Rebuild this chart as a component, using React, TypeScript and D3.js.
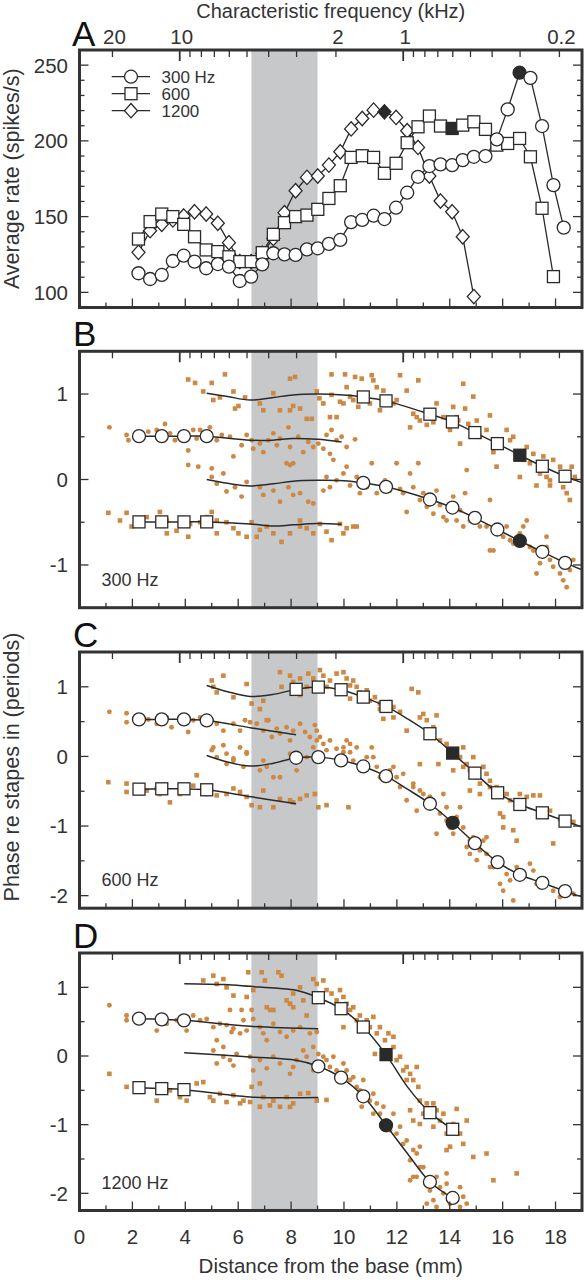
import React from 'react';
import * as d3 from 'd3';

type P = [number, number];

const W = 584;
const H = 1280;
const FONT = '"Liberation Sans", Arial, Helvetica, sans-serif';
const INK = '#333333';
const ORANGE = '#cd8944';
const SHADE = '#c7c8ca';

// ---------- axes data ----------
const X_DOMAIN: P = [0, 19];
const X_TICK_LABELS = [0, 2, 4, 6, 8, 10, 12, 14, 16, 18];
const X_MINOR = d3.range(1, 19, 1);
const SHADE_MM: P = [6.5, 9.0];
const CF_LABELS = [20, 10, 2, 1, 0.2];
const CF_MAJOR = [10, 1];
const CF_MINOR = [20, 9, 8, 7, 6, 5, 4, 3, 2, 0.9, 0.8, 0.7, 0.6, 0.5, 0.4, 0.3, 0.2];
const CF_ANCHOR_KHZ: P = [10, 1];
const CF_ANCHOR_MM: P = [3.79, 12.24];

// ---------- panel A data ----------
const rateX = [2.23, 2.67, 3.11, 3.53, 3.94, 4.35, 4.79, 5.23, 5.65, 6.06, 6.49, 6.91, 7.33, 7.75, 8.17, 8.6, 9.01, 9.43, 9.86, 10.27, 10.69, 11.12, 11.53, 11.97, 12.39, 12.8, 13.23, 13.65, 14.09, 14.49, 14.91, 15.35, 15.78, 16.19, 16.64, 17.05, 17.49, 17.92, 18.31];
const rate300 = [112.6, 108.8, 111.5, 120.7, 124.2, 120.3, 115.9, 118.7, 117, 107.5, 110.4, 118.5, 125.8, 125.1, 124.7, 128.4, 129.1, 132, 134.6, 146.4, 147.8, 150.6, 148.4, 155.9, 165.8, 176.3, 183.4, 184.5, 184, 187.3, 189.5, 190, 201, 220.8, 245, 241.6, 209.8, 170.8, 142.7];
const rate600 = [135.2, 146.7, 151.7, 150, 144.9, 136.7, 128, 126.9, 123.5, 120.3, 120.3, 126.2, 138.3, 146, 150, 151, 154.8, 162, 170.4, 189.1, 190.2, 189.1, 178.6, 185.2, 198.8, 209.3, 216.4, 209.8, 208.2, 210.4, 212.6, 207.6, 197.2, 198.3, 201.6, 189.5, 155.5, 110.4];
const rate1200 = [126.4, 140.7, 144.9, 147.8, 150.4, 153.2, 151.7, 145.6, 132.8, 120.3, 120.3, 125.8, 135.6, 152.6, 167.1, 175.9, 176.8, 184, 192.8, 207.9, 214.8, 220.3, 219.2, 215.5, 206.7, 195.7, 176.8, 160.3, 153.2, 136.7, 97.2];
const filled300 = 34;
const filled600 = 28;
const filled1200 = 22;
const legendLabels = ['300 Hz', '600', '1200'];
const rateTicks = [100, 150, 200, 250];

// ---------- panel B (300 Hz) ----------
const B_sqScatter: P[] = [[4.11,1.17],[4.37,1.13],[5.0,1.13],[5.5,1.23],[4.68,1.03],[5.06,0.93],[5.31,0.96],[5.82,1.03],[5.88,0.83],[6.01,0.86],[6.26,0.96],[6.82,0.89],[6.95,0.81],[7.33,1.01],[7.58,0.81],[7.96,1.18],[8.15,1.2],[7.96,0.81],[8.08,0.86],[8.34,0.83],[8.59,0.71],[8.78,0.71],[8.97,1.03],[9.07,0.95],[9.22,0.89],[9.53,1.23],[9.53,0.99],[9.85,0.91],[9.72,0.73],[9.47,0.73],[10.04,1.23],[10.1,1.08],[10.23,0.97],[10.35,0.93],[10.42,1.2],[10.54,0.85],[10.67,1.18],[11.05,1.22],[11.11,1.16],[11.24,1.08],[11.36,0.81],[11.49,1.04],[12.12,1.22],[11.99,0.93],[12.37,1.04],[12.5,0.61],[12.62,0.77],[12.81,1.16],[12.87,0.69],[13.13,0.64],[13.38,0.67],[13.5,0.89],[13.76,0.73],[14.01,0.58],[14.13,0.85],[14.26,0.73],[14.39,0.42],[14.51,1.12],[14.58,0.83],[14.7,0.65],[14.89,0.97],[15.14,0.5],[15.39,0.58],[15.52,0.75],[15.65,0.32],[15.77,0.15],[16.15,0.58],[16.28,0.46],[16.4,0.5],[16.53,0.3],[16.78,0.23],[16.91,0.38],[17.03,0.19],[17.16,0.3],[17.41,0.07],[17.54,0.27],[17.66,0.03],[17.79,-0.07],[17.91,0.23],[18.17,0.15],[18.29,-0.09],[18.42,-0.16],[18.54,-0.24],[18.61,0.15],[18.73,0.03],[17.79,-0.01],[17.28,-0.07],[16.65,0.03],[15.9,0.42],[15.02,0.69],[14.32,0.69],[13.25,0.81],[12.75,0.73],[11.87,0.89],[9.98,0.89],[10.98,0.89],
[1.09,-0.39],[1.78,-0.39],[1.97,-0.55],[2.54,-0.44],[3.04,-0.38],[3.3,-0.48],[3.67,-0.6],[4.18,-0.52],[4.11,-0.67],[4.56,-0.5],[4.81,-0.44],[5.0,-0.38],[5.19,-0.63],[5.56,-0.5],[5.82,-0.57],[6.32,-0.67],[6.51,-0.5],[6.82,-0.59],[7.08,-0.55],[7.33,-0.63],[7.64,-0.73],[7.96,-0.63],[8.34,-0.55],[8.59,-0.57],[8.84,-0.63],[9.09,-0.52],[9.34,-0.61],[9.53,-0.71],[9.85,-0.52],[9.98,-0.63],[10.1,-0.57],[10.35,-0.55],[10.48,-0.55],[1.53,-0.48],[3.3,-0.63],[5.19,-0.48],[6.01,-0.63],[6.7,-0.67],[8.34,-0.48]];
const B_ciScatter: P[] = [[1.13,0.61],[1.78,0.52],[1.85,0.46],[2.29,0.5],[2.6,0.56],[2.92,0.58],[3.23,0.65],[3.42,0.54],[3.61,0.46],[4.05,0.52],[4.11,0.34],[4.3,0.58],[4.43,0.48],[4.56,0.58],[4.93,0.61],[5.19,0.46],[5.38,0.52],[5.69,0.5],[5.82,0.27],[6.13,0.4],[6.32,0.52],[6.51,0.46],[6.57,0.36],[6.82,0.42],[6.95,0.32],[7.14,0.46],[7.33,0.54],[7.46,0.4],[7.58,0.48],[7.9,0.61],[7.96,0.38],[8.08,0.19],[8.27,0.5],[8.46,0.32],[8.65,0.44],[8.84,0.38],[9.03,0.42],[9.22,0.36],[9.34,0.52],[9.47,0.3],[9.53,0.58],[9.6,0.23],[9.72,0.46],[9.91,0.5],[10.1,0.38],[10.42,0.47],[4.11,0.17],[4.49,0.15],[5.0,0.13],[5.44,0.07],[7.83,0.19],[7.96,0.17],
[5.0,0.03],[5.19,-0.05],[5.56,-0.14],[5.88,-0.09],[6.13,-0.2],[6.32,-0.03],[6.82,-0.09],[6.95,-0.18],[7.33,-0.13],[7.58,-0.26],[7.9,-0.09],[8.08,-0.18],[8.34,-0.16],[8.65,-0.26],[8.84,-0.28],[9.22,-0.13],[9.34,0.03],[9.47,-0.09],[9.72,-0.01],[9.98,0.07],[10.1,0.15],[10.23,-0.07],[10.48,0.03],[10.6,-0.16],[10.86,-0.09],[11.05,0.19],[11.24,-0.16],[11.55,-0.01],[11.74,-0.13],[11.99,0.19],[12.12,-0.11],[12.24,-0.16],[12.37,-0.38],[12.5,0.07],[12.62,-0.09],[12.81,0.19],[12.87,-0.24],[13.0,-0.16],[13.13,-0.32],[13.38,-0.4],[13.5,-0.13],[13.63,-0.3],[13.88,-0.48],[14.01,-0.32],[14.13,-0.2],[14.39,-0.36],[14.51,-0.55],[14.58,-0.16],[14.64,0.11],[14.76,-0.48],[15.02,-0.4],[15.14,-0.55],[15.39,-0.55],[15.52,-0.24],[15.65,-0.83],[15.9,-0.63],[16.02,-0.67],[16.15,-0.55],[16.28,-0.71],[16.4,-0.75],[16.65,-0.63],[16.78,-0.55],[16.91,-0.48],[17.03,-0.79],[17.16,-0.83],[17.28,-1.1],[17.41,-0.98],[17.54,-0.9],[17.66,-0.79],[17.79,-0.94],[17.91,-1.02],[18.17,-1.1],[18.29,-1.18],[18.42,-1.26],[18.54,-1.06],[18.67,-0.94],[17.66,-0.67],[15.52,-0.83],[14.26,-0.48],[13.76,-0.44]];
const B_sqMarkers: P[] = [[10.73,0.966],[11.59,0.92],[13.25,0.764],[14.1,0.674],[14.95,0.549],[15.8,0.42],[16.65,0.284],[17.5,0.155],[18.36,0.038]];
const B_sqLine: P[] = [[4.81,1.01],[5.6,0.97],[6.45,0.93],[7.33,0.96],[8.08,0.99],[8.97,1.0],[9.98,0.99],[10.73,0.966],[11.59,0.92],[13.25,0.764],[14.1,0.674],[14.95,0.549],[15.8,0.42],[16.65,0.284],[17.5,0.155],[18.36,0.038],[19.2,-0.06]];
const B_ciLeftMarkers: P[] = [[2.25,0.507],[3.11,0.507],[3.95,0.507],[4.81,0.507]];
const B_ciLeftLine: P[] = [[2.25,0.507],[3.11,0.507],[3.95,0.507],[4.81,0.507],[6.45,0.46],[7.3,0.46],[8.08,0.48],[9.0,0.47],[9.91,0.44]];
const B_ciMarkers: P[] = [[10.73,-0.04],[11.59,-0.086],[13.25,-0.234],[14.1,-0.328],[14.95,-0.449],[15.8,-0.585],[16.65,-0.718],[17.5,-0.846],[18.36,-0.975]];
const B_ciLine: P[] = [[4.81,0.0],[5.6,-0.045],[6.45,-0.075],[7.33,-0.05],[8.08,-0.02],[9.0,-0.01],[9.98,-0.015],[10.73,-0.04],[11.59,-0.086],[13.25,-0.234],[14.1,-0.328],[14.95,-0.449],[15.8,-0.585],[16.65,-0.718],[17.5,-0.846],[18.36,-0.975],[19.2,-1.08]];
const B_sqLeftMarkers: P[] = [[2.25,-0.496],[3.11,-0.496],[3.95,-0.496],[4.81,-0.496]];
const B_sqLeftLine: P[] = [[2.25,-0.496],[3.11,-0.496],[3.95,-0.496],[4.81,-0.496],[6.45,-0.52],[7.33,-0.545],[8.08,-0.53],[9.0,-0.515],[9.91,-0.523]];

// ---------- panel C (600 Hz) ----------
const C_sqScatter: P[] = [[5.44,1.16],[5.0,1.09],[5.06,1.0],[5.19,0.92],[5.82,0.85],[6.32,1.04],[6.51,0.76],[6.82,0.68],[6.95,0.8],[7.08,0.52],[7.58,1.21],[7.64,1.0],[7.96,1.16],[8.08,1.07],[8.34,1.12],[8.59,1.0],[8.65,1.19],[8.84,1.12],[9.09,1.24],[9.22,1.16],[9.34,1.0],[9.47,1.09],[9.72,1.19],[9.98,1.21],[10.1,1.12],[10.23,1.02],[10.35,1.09],[10.48,1.0],[10.6,0.92],[10.86,0.95],[10.98,0.8],[11.17,0.85],[11.36,0.76],[11.49,0.54],[11.74,0.78],[11.87,0.71],[12.12,0.64],[12.37,0.37],[12.56,0.97],[12.81,0.92],[12.87,0.56],[13.0,0.61],[12.87,-0.11],[13.13,0.52],[13.38,0.42],[13.5,0.59],[13.63,0.23],[13.88,0.18],[14.26,0.09],[14.39,-0.01],[14.51,0.13],[14.64,-0.11],[14.76,-0.2],[14.89,-0.01],[15.02,-0.3],[15.14,-0.39],[15.27,-0.15],[15.39,-0.25],[15.52,-0.35],[15.65,-0.49],[15.77,-0.44],[15.9,-0.82],[16.02,-0.87],[16.15,-0.54],[16.28,-0.63],[16.4,-1.06],[16.53,-1.21],[16.65,-0.54],[16.91,-0.58],[17.16,-0.56],[17.41,-0.56],[17.66,-0.82],[17.79,-0.78],[17.91,-1.25],[18.17,-0.9],[18.42,-0.92],[18.67,-0.94],[13.57,-0.11],[14.51,-0.15],[14.13,-0.2],[15.14,-0.54],[16.02,-1.02],[15.52,-0.44],[14.76,-0.49],[13.25,0.28],[11.87,0.56],[11.36,0.68],[9.98,0.92],[10.23,0.83],[9.09,1.04],[8.34,0.88],
[1.09,-0.37],[1.78,-0.39],[1.78,-0.51],[2.54,-0.49],[2.92,-0.46],[3.42,-0.66],[3.8,-0.54],[4.3,-0.42],[4.43,-0.27],[4.81,-0.54],[5.19,-0.56],[5.56,-0.54],[5.82,-0.46],[6.32,-0.58],[6.51,-0.7],[6.82,-0.73],[6.95,-0.49],[7.33,-0.73],[7.58,-0.61],[7.96,-0.63],[8.34,-0.61],[8.59,-0.56],[8.9,-0.54],[9.03,-0.73],[9.34,-0.7],[10.17,-0.73],[3.04,-0.54],[4.05,-0.49],[6.07,-0.51],[8.08,-0.66]];
const C_ciScatter: P[] = [[1.13,0.64],[1.78,0.62],[1.78,0.49],[2.29,0.52],[2.6,0.53],[2.92,0.47],[3.3,0.56],[3.48,0.42],[3.8,0.54],[4.11,0.35],[4.3,0.52],[4.56,0.56],[5.0,0.52],[5.19,0.47],[5.44,0.37],[5.82,0.47],[6.07,0.37],[6.26,0.52],[6.45,0.49],[6.7,0.47],[6.95,0.37],[7.14,0.52],[7.27,0.28],[7.46,0.4],[7.58,0.33],[7.83,0.42],[7.96,0.23],[8.08,0.37],[8.34,0.47],[8.53,0.35],[8.71,0.28],[8.9,0.45],[8.97,0.37],[5.06,0.13],[5.44,0.16],[5.56,0.04],[5.82,-0.06],[6.07,0.13],[6.32,0.06],
[5.0,0.09],[5.19,-0.01],[5.56,-0.11],[5.82,-0.03],[6.2,-0.15],[6.32,0.04],[6.82,-0.2],[6.95,-0.06],[7.08,-0.15],[7.33,-0.3],[7.58,-0.3],[7.96,0.04],[8.21,-0.2],[8.34,-0.06],[8.59,-0.01],[8.84,0.13],[8.97,0.23],[9.09,0.28],[9.22,0.18],[9.34,0.09],[9.47,0.23],[9.72,0.11],[9.85,-0.01],[9.98,0.13],[10.1,0.23],[10.23,0.06],[10.35,-0.06],[10.48,0.13],[10.6,-0.15],[10.86,-0.01],[11.05,0.13],[11.24,-0.15],[11.36,-0.3],[11.55,-0.35],[11.74,-0.2],[11.99,-0.3],[12.12,-0.44],[12.24,-0.25],[12.37,-0.63],[12.62,-0.44],[12.75,-0.78],[12.87,-0.49],[13.0,-0.54],[13.13,-0.63],[13.38,-0.63],[13.5,-1.11],[13.63,-0.82],[13.88,-0.92],[14.01,-1.02],[14.13,-1.11],[14.26,-0.87],[14.39,-0.73],[14.51,-1.02],[14.64,-1.3],[14.76,-1.4],[14.89,-1.16],[15.02,-1.49],[15.14,-1.35],[15.27,-1.21],[15.39,-1.4],[15.52,-1.59],[15.65,-1.59],[15.9,-1.83],[16.02,-1.93],[16.15,-1.69],[16.28,-1.78],[16.4,-2.07],[16.53,-1.59],[16.78,-1.73],[17.03,-1.54],[17.16,-1.64],[17.28,-1.83],[17.41,-1.88],[17.66,-1.83],[17.91,-1.93],[18.17,-2.02],[18.42,-1.97],[18.67,-1.97],[15.39,-1.16],[15.65,-1.49],[14.76,-1.21],[13.88,-0.73],[13.25,-0.58],[12.62,-0.39],[11.61,-0.3],[11.87,-0.15],[9.98,0.06],[10.23,0.18],[11.11,-0.01],[13.76,-0.54]];
const C_sqMarkers: P[] = [[8.19,0.963],[9.03,0.996],[9.89,0.958],[10.73,0.852],[11.59,0.718],[13.25,0.326],[14.11,0.048],[14.95,-0.24],[15.81,-0.522],[16.65,-0.69],[17.5,-0.81],[18.36,-0.929]];
const C_sqLine: P[] = [[4.81,1.02],[5.6,0.93],[6.45,0.862],[7.3,0.89],[8.19,0.963],[9.03,0.996],[9.89,0.958],[10.73,0.852],[11.59,0.718],[12.4,0.54],[13.25,0.326],[14.11,0.048],[14.95,-0.24],[15.81,-0.522],[16.65,-0.69],[17.5,-0.81],[18.36,-0.929],[19.2,-1.04]];
const C_ciLeftMarkers: P[] = [[2.25,0.532],[3.11,0.532],[3.95,0.532],[4.81,0.517]];
const C_ciLeftLine: P[] = [[2.25,0.532],[3.11,0.532],[3.95,0.532],[4.81,0.517],[6.5,0.41],[8.19,0.31]];
const C_ciMarkers: P[] = [[8.19,-0.019],[9.03,-0.01],[9.89,-0.057],[10.73,-0.144],[11.59,-0.283],[13.25,-0.68],[14.11,-0.953],[14.95,-1.245],[15.81,-1.518],[16.65,-1.7],[17.5,-1.815],[18.36,-1.935]];
const C_ciLine: P[] = [[4.81,0.014],[5.6,-0.08],[6.45,-0.139],[7.3,-0.1],[8.19,-0.019],[9.03,-0.01],[9.89,-0.057],[10.73,-0.144],[11.59,-0.283],[12.4,-0.47],[13.25,-0.68],[14.11,-0.953],[14.95,-1.245],[15.81,-1.518],[16.65,-1.7],[17.5,-1.815],[18.36,-1.935],[19.2,-2.04]];
const C_sqLeftMarkers: P[] = [[2.25,-0.47],[3.11,-0.465],[3.95,-0.465],[4.81,-0.479]];
const C_sqLeftLine: P[] = [[2.25,-0.47],[3.11,-0.465],[3.95,-0.465],[4.81,-0.479],[6.5,-0.58],[8.19,-0.68]];

// ---------- panel D (1200 Hz) ----------
const D_sqScatter: P[] = [[4.68,1.1],[5.06,1.17],[5.19,1.05],[5.44,1.12],[5.56,1.0],[5.82,0.88],[6.38,1.22],[6.57,0.96],[6.89,1.22],[7.01,1.1],[7.33,0.67],[7.52,1.22],[7.64,1.17],[7.83,0.81],[7.96,0.76],[8.08,0.71],[8.34,1.0],[8.46,0.81],[8.59,0.59],[8.84,1.12],[8.97,1.05],[9.22,1.1],[9.34,0.96],[9.53,0.91],[9.72,0.81],[9.85,0.96],[9.98,0.86],[10.1,0.76],[10.23,0.67],[10.35,0.71],[10.48,0.52],[10.6,0.59],[10.86,0.52],[10.98,0.42],[11.11,0.57],[11.24,0.33],[11.36,0.42],[11.55,0.23],[11.68,0.33],[11.87,0.13],[11.99,-0.06],[12.12,-0.01],[12.24,-0.21],[12.37,-0.35],[12.5,-0.26],[12.62,-0.35],[12.75,-0.16],[12.81,-0.45],[12.87,-0.65],[13.0,-0.84],[12.5,-0.79],[12.62,-0.94],[12.87,-0.99],[13.13,-0.69],[13.38,-0.69],[13.5,-0.79],[13.63,-0.94],[13.76,-0.84],[13.88,-1.13],[14.01,-1.32],[14.13,-0.99],[14.26,-0.77],[14.39,-1.13],[14.51,-1.28],[14.64,-0.94],[14.89,-1.47],[15.39,-1.42],[15.65,-1.81],[16.53,-1.71],[13.38,-1.03],[13.88,-1.37],[11.17,0.03],[9.98,0.42],[9.09,0.81],[7.08,0.71],[6.32,0.86],[8.08,0.91],[11.87,0.28],[12.37,-0.16],
[1.13,-0.26],[1.78,-0.45],[2.35,-0.5],[2.92,-0.65],[3.42,-0.5],[3.8,-0.6],[4.05,-0.65],[4.43,-0.4],[4.68,-0.38],[5.06,-0.65],[5.31,-0.55],[5.56,-0.67],[5.82,-0.57],[6.2,-0.65],[6.45,-0.67],[6.82,-0.74],[6.95,-0.6],[7.33,-0.65],[7.58,-0.74],[7.83,-0.6],[8.08,-0.69],[8.34,-0.55],[8.65,-0.54],[8.97,-0.65],[9.34,-0.64],[4.93,-0.6],[6.07,-0.69],[7.2,-0.72],[7.96,-0.74],[6.51,-0.45],[6.82,-0.4]];
const D_ciScatter: P[] = [[1.13,0.74],[1.78,0.59],[1.78,0.52],[2.29,0.54],[2.92,0.37],[3.3,0.47],[3.67,0.52],[4.05,0.37],[4.3,0.59],[4.56,0.52],[4.81,0.54],[5.06,0.42],[5.31,0.47],[5.56,0.45],[5.82,0.4],[6.07,0.33],[6.32,0.37],[6.51,0.67],[6.57,0.54],[6.82,0.42],[6.95,0.33],[7.08,0.23],[7.33,0.47],[7.58,0.35],[7.83,0.28],[8.08,0.37],[8.34,0.42],[8.71,0.33],[8.97,0.35],[5.69,0.67],[5.19,0.23],[5.44,0.13],[5.75,0.35],[7.2,0.67],[7.96,0.76],[6.13,0.67],[6.2,0.52],
[5.06,0.08],[5.19,-0.11],[5.44,-0.01],[5.69,-0.06],[5.82,-0.14],[5.94,0.03],[6.45,-0.01],[6.57,-0.21],[6.82,-0.06],[7.08,-0.18],[7.33,-0.01],[7.58,-0.11],[7.96,-0.26],[8.08,-0.16],[8.21,-0.06],[8.46,0.08],[8.59,-0.01],[8.84,0.13],[9.03,0.03],[9.22,-0.01],[9.34,-0.06],[9.47,-0.16],[9.72,-0.21],[9.98,-0.11],[10.23,-0.35],[10.35,-0.31],[10.48,-0.45],[10.6,-0.5],[10.73,-0.35],[10.86,-0.6],[10.98,-0.65],[11.11,-0.55],[11.24,-0.69],[11.36,-0.84],[11.49,-0.74],[11.61,-0.94],[11.87,-0.84],[11.99,-1.13],[12.12,-1.03],[12.37,-1.23],[12.5,-1.52],[12.62,-1.37],[12.75,-1.42],[12.87,-1.32],[13.0,-1.62],[13.13,-1.86],[13.25,-1.96],[13.38,-2.1],[13.5,-1.76],[13.63,-1.91],[13.76,-2.0],[13.88,-1.86],[14.13,-2.0],[14.26,-2.1],[14.39,-1.91],[14.51,-2.05],[14.64,-2.15],[12.5,-1.81],[12.75,-1.76],[13.13,-2.15],[13.5,-2.2],[14.39,-2.2],[11.11,-0.84],[11.74,-1.08],[12.24,-1.28],[12.87,-1.62],[12.62,-1.76],[13.88,-1.71],[14.01,-2.15],[10.67,-0.74],[10.1,-0.21],[8.84,-0.21],[9.6,-0.01]];
const D_sqMarkers: P[] = [[9.03,0.849],[9.89,0.689],[10.73,0.422],[11.59,0.02],[13.25,-0.825],[14.11,-1.067]];
const D_sqLine: P[] = [[3.96,1.053],[5.5,1.04],[6.45,1.014],[7.5,0.985],[8.19,0.956],[9.03,0.849],[9.89,0.689],[10.73,0.422],[11.59,0.02],[12.4,-0.45],[13.25,-0.825],[14.11,-1.067]];
const D_ciLeftMarkers: P[] = [[2.25,0.544],[3.11,0.534],[3.95,0.519]];
const D_ciLeftLine: P[] = [[2.25,0.544],[3.11,0.534],[3.95,0.519],[6.45,0.432],[9.03,0.398]];
const D_ciMarkers: P[] = [[9.03,-0.15],[9.89,-0.315],[10.73,-0.587],[11.59,-1.009],[13.25,-1.834],[14.11,-2.067]];
const D_ciLine: P[] = [[3.96,0.049],[6.45,-0.014],[8.19,-0.063],[9.03,-0.15],[9.89,-0.315],[10.73,-0.587],[11.59,-1.009],[12.4,-1.42],[13.25,-1.834],[14.11,-2.067]];
const D_sqLeftMarkers: P[] = [[2.25,-0.461],[3.11,-0.475],[3.95,-0.49]];
const D_sqLeftLine: P[] = [[2.25,-0.461],[3.11,-0.475],[3.95,-0.49],[6.45,-0.597],[9.03,-0.606]];

// ---------- layout ----------
const X_RANGE: P = [79.5, 582];
const x = d3.scaleLinear().domain(X_DOMAIN).range(X_RANGE);
const cf = d3.scaleLog().domain(CF_ANCHOR_KHZ).range([x(CF_ANCHOR_MM[0]), x(CF_ANCHOR_MM[1])]);

interface PhasePanelDef {
  id: string; letter: string; label: string; top: number; bottom: number; yDomain: P;
  sqScatter: P[]; ciScatter: P[];
  sqLine: P[]; sqMarkers: P[]; sqFilled: number;
  ciLine: P[]; ciMarkers: P[]; ciFilled: number;
  ciLeftLine: P[]; ciLeftMarkers: P[];
  sqLeftLine: P[]; sqLeftMarkers: P[];
  yMajor: number[]; yMinor: number[];
}

const phasePanels: PhasePanelDef[] = [
  { id: 'B', letter: 'B', label: '300 Hz', top: 351.3, bottom: 607.7, yDomain: [-1.5, 1.5],
    sqScatter: B_sqScatter, ciScatter: B_ciScatter, sqLine: B_sqLine, sqMarkers: B_sqMarkers, sqFilled: 6,
    ciLine: B_ciLine, ciMarkers: B_ciMarkers, ciFilled: 6, ciLeftLine: B_ciLeftLine, ciLeftMarkers: B_ciLeftMarkers,
    sqLeftLine: B_sqLeftLine, sqLeftMarkers: B_sqLeftMarkers, yMajor: [-1, 0, 1], yMinor: [-0.5, 0.5] },
  { id: 'C', letter: 'C', label: '600 Hz', top: 652, bottom: 908.2, yDomain: [-2.18, 1.5],
    sqScatter: C_sqScatter, ciScatter: C_ciScatter, sqLine: C_sqLine, sqMarkers: C_sqMarkers, sqFilled: 6,
    ciLine: C_ciLine, ciMarkers: C_ciMarkers, ciFilled: 6, ciLeftLine: C_ciLeftLine, ciLeftMarkers: C_ciLeftMarkers,
    sqLeftLine: C_sqLeftLine, sqLeftMarkers: C_sqLeftMarkers, yMajor: [-2, -1, 0, 1], yMinor: [-1.5, -0.5, 0.5] },
  { id: 'D', letter: 'D', label: '1200 Hz', top: 953, bottom: 1210.5, yDomain: [-2.25, 1.5],
    sqScatter: D_sqScatter, ciScatter: D_ciScatter, sqLine: D_sqLine, sqMarkers: D_sqMarkers, sqFilled: 3,
    ciLine: D_ciLine, ciMarkers: D_ciMarkers, ciFilled: 3, ciLeftLine: D_ciLeftLine, ciLeftMarkers: D_ciLeftMarkers,
    sqLeftLine: D_sqLeftLine, sqLeftMarkers: D_sqLeftMarkers, yMajor: [-2, -1, 0, 1], yMinor: [-1.5, -0.5, 0.5] },
];

const A_TOP = 50;
const A_BOTTOM = 307.5;
const yA = d3.scaleLinear().domain([90, 260]).range([A_BOTTOM, A_TOP]);

const FRAME_W = 3;
const TICK_W = 1.3;

function Circle({ cx, cy, r = 6.5, filled = false }: { cx: number; cy: number; r?: number; filled?: boolean }) {
  return <circle cx={cx} cy={cy} r={r} fill={filled ? '#2a2a2a' : '#fff'} stroke="#2a2a2a" strokeWidth={1.3} />;
}
function Square({ cx, cy, s = 12, filled = false }: { cx: number; cy: number; s?: number; filled?: boolean }) {
  return <rect x={cx - s / 2} y={cy - s / 2} width={s} height={s} fill={filled ? '#2a2a2a' : '#fff'} stroke="#2a2a2a" strokeWidth={1.3} />;
}
function Diamond({ cx, cy, filled = false }: { cx: number; cy: number; filled?: boolean }) {
  const hw = 6.5, hh = 7.2;
  return <path d={`M${cx},${cy - hh}L${cx + hw},${cy}L${cx},${cy + hh}L${cx - hw},${cy}Z`} fill={filled ? '#2a2a2a' : '#fff'} stroke="#2a2a2a" strokeWidth={1.3} />;
}

function Frame({ top, bottom, yMajor, yMinor, y, showTopLabels }: { top: number; bottom: number; yMajor: number[]; yMinor: number[]; y: d3.ScaleLinear<number, number>; showTopLabels?: boolean }) {
  const l = X_RANGE[0], r = X_RANGE[1];
  return (
    <g>
      {X_MINOR.map((v) => {
        const major = v % 2 === 0;
        return <line key={'b' + v} x1={x(v)} x2={x(v)} y1={bottom} y2={bottom - (major ? 9 : 5)} stroke={INK} strokeWidth={TICK_W} />;
      })}
      {CF_MINOR.map((f) => (
        <line key={'tm' + f} x1={cf(f)} x2={cf(f)} y1={top} y2={top + 7} stroke={INK} strokeWidth={TICK_W} />
      ))}
      {CF_MAJOR.map((f) => (
        <line key={'tM' + f} x1={cf(f)} x2={cf(f)} y1={top} y2={top + 11} stroke={INK} strokeWidth={TICK_W + 0.5} />
      ))}
      {yMajor.map((v) => (
        <g key={'yM' + v}>
          <line x1={l} x2={l + 9} y1={y(v)} y2={y(v)} stroke={INK} strokeWidth={TICK_W} />
          <line x1={r} x2={r - 9} y1={y(v)} y2={y(v)} stroke={INK} strokeWidth={TICK_W} />
          <text x={68} y={y(v)} dy="0.36em" textAnchor="end" fontSize={20.5} fill={INK} fontFamily={FONT}>{v < 0 ? '-' + Math.abs(v) : v}</text>
        </g>
      ))}
      {yMinor.map((v) => (
        <g key={'ym' + v}>
          <line x1={l} x2={l + 5} y1={y(v)} y2={y(v)} stroke={INK} strokeWidth={TICK_W} />
          <line x1={r} x2={r - 5} y1={y(v)} y2={y(v)} stroke={INK} strokeWidth={TICK_W} />
        </g>
      ))}
      <rect x={l} y={top} width={r - l} height={bottom - top} fill="none" stroke={INK} strokeWidth={FRAME_W} />
      {showTopLabels && CF_LABELS.map((f) => (
        <text key={'cl' + f} x={cf(f) + 2} y={top - 6} textAnchor="middle" fontSize={20.5} fill={INK} fontFamily={FONT}>{f}</text>
      ))}
    </g>
  );
}

function PanelA() {
  const lineLin = d3.line<P>().x((d) => x(d[0])).y((d) => yA(d[1]));
  const s300: P[] = rate300.map((v, i) => [rateX[i], v]);
  const s600: P[] = rate600.map((v, i) => [rateX[i], v]);
  const s1200: P[] = rate1200.map((v, i) => [rateX[i], v]);
  const minorA = d3.range(90, 261, 10).filter((v) => !rateTicks.includes(v));
  const legendY = [76.7, 93.7, 110.7];
  return (
    <g>
      <rect x={x(SHADE_MM[0])} y={A_TOP} width={x(SHADE_MM[1]) - x(SHADE_MM[0])} height={A_BOTTOM - A_TOP} fill={SHADE} />
      <path d={lineLin(s1200) || ''} fill="none" stroke="#2a2a2a" strokeWidth={1.3} />
      <path d={lineLin(s600) || ''} fill="none" stroke="#2a2a2a" strokeWidth={1.3} />
      <path d={lineLin(s300) || ''} fill="none" stroke="#2a2a2a" strokeWidth={1.3} />
      {s1200.map((d, i) => <Diamond key={'d' + i} cx={x(d[0])} cy={yA(d[1])} filled={i === filled1200} />)}
      {s600.map((d, i) => <Square key={'s' + i} cx={x(d[0])} cy={yA(d[1])} filled={i === filled600} s={12} />)}
      {s300.map((d, i) => <Circle key={'c' + i} cx={x(d[0])} cy={yA(d[1])} filled={i === filled300} />)}
      {legendLabels.map((lab, i) => (
        <g key={lab}>
          <line x1={111.7} x2={150} y1={legendY[i]} y2={legendY[i]} stroke="#2a2a2a" strokeWidth={1.3} />
          {i === 0 && <Circle cx={131} cy={legendY[i]} />}
          {i === 1 && <Square cx={131} cy={legendY[i]} />}
          {i === 2 && <Diamond cx={131} cy={legendY[i]} />}
          <text x={161.5} y={legendY[i]} dy="0.35em" fontSize={17} fill={INK} fontFamily={FONT}>{lab}</text>
        </g>
      ))}
      <Frame top={A_TOP} bottom={A_BOTTOM} yMajor={rateTicks} yMinor={minorA} y={yA} showTopLabels />
      <text x={72} y={A_TOP - 4} fontSize={35} fill="#111" fontFamily={FONT}>A</text>
    </g>
  );
}

function PhasePanel({ def }: { def: PhasePanelDef }) {
  const y = d3.scaleLinear().domain(def.yDomain).range([def.bottom, def.top]);
  const curve = d3.line<P>().x((d) => x(d[0])).y((d) => y(d[1])).curve(d3.curveCatmullRom.alpha(0.5));
  const clipId = 'clip' + def.id;
  const lines = [def.sqLine, def.ciLine, def.ciLeftLine, def.sqLeftLine];
  const sq = 4.6;
  return (
    <g>
      <defs>
        <clipPath id={clipId}>
          <rect x={X_RANGE[0]} y={def.top} width={X_RANGE[1] - X_RANGE[0]} height={def.bottom - def.top} />
        </clipPath>
      </defs>
      <rect x={x(SHADE_MM[0])} y={def.top} width={x(SHADE_MM[1]) - x(SHADE_MM[0])} height={def.bottom - def.top} fill={SHADE} />
      <g clipPath={`url(#${clipId})`}>
        {def.sqScatter.map((d, i) => (
          <rect key={'ss' + i} x={x(d[0]) - sq / 2} y={y(d[1]) - sq / 2} width={sq} height={sq} fill={ORANGE} />
        ))}
        {def.ciScatter.map((d, i) => (
          <circle key={'cs' + i} cx={x(d[0])} cy={y(d[1])} r={2.45} fill={ORANGE} />
        ))}
        {lines.map((ln, i) => (
          <path key={'ln' + i} d={curve(ln) || ''} fill="none" stroke="#2a2a2a" strokeWidth={1.5} />
        ))}
      </g>
      {def.sqLeftMarkers.map((d, i) => <Square key={'sl' + i} cx={x(d[0])} cy={y(d[1])} />)}
      {def.ciLeftMarkers.map((d, i) => <Circle key={'cl' + i} cx={x(d[0])} cy={y(d[1])} />)}
      {def.sqMarkers.map((d, i) => <Square key={'sm' + i} cx={x(d[0])} cy={y(d[1])} filled={i === def.sqFilled} />)}
      {def.ciMarkers.map((d, i) => <Circle key={'cm' + i} cx={x(d[0])} cy={y(d[1])} filled={i === def.ciFilled} />)}
      <Frame top={def.top} bottom={def.bottom} yMajor={def.yMajor} yMinor={def.yMinor} y={y} />
      <text x={101.5} y={def.bottom - 22} fontSize={18} fill={INK} fontFamily={FONT}>{def.label}</text>
      <text x={73} y={def.top - 5} fontSize={35} fill="#111" fontFamily={FONT}>{def.letter}</text>
    </g>
  );
}

export default function App() {
  const last = phasePanels[phasePanels.length - 1];
  return (
    <svg width={W} height={H} viewBox={`0 0 ${W} ${H}`} style={{ position: 'absolute', left: 0, top: 0, background: '#fff' }}>
      <rect x={0} y={0} width={W} height={H} fill="#fff" />
      <text x={(X_RANGE[0] + X_RANGE[1]) / 2} y={18} textAnchor="middle" fontSize={20} fill={INK} fontFamily={FONT}>Characteristic frequency (kHz)</text>
      <PanelA />
      {phasePanels.map((p) => <PhasePanel key={p.id} def={p} />)}
      {X_TICK_LABELS.map((v) => (
        <text key={'xl' + v} x={x(v)} y={last.bottom + 33} textAnchor="middle" fontSize={20.5} fill={INK} fontFamily={FONT}>{v}</text>
      ))}
      <text x={(X_RANGE[0] + X_RANGE[1]) / 2} y={1273} textAnchor="middle" fontSize={20.5} fill={INK} fontFamily={FONT}>Distance from the base (mm)</text>
      <text transform={`translate(18.5,${(A_TOP + A_BOTTOM) / 2}) rotate(-90)`} textAnchor="middle" fontSize={21.5} fill={INK} fontFamily={FONT}>Average rate (spikes/s)</text>
      <text transform={`translate(19,767) rotate(-90)`} textAnchor="middle" fontSize={21.5} fill={INK} fontFamily={FONT}>Phase re stapes in (periods)</text>
    </svg>
  );
}
